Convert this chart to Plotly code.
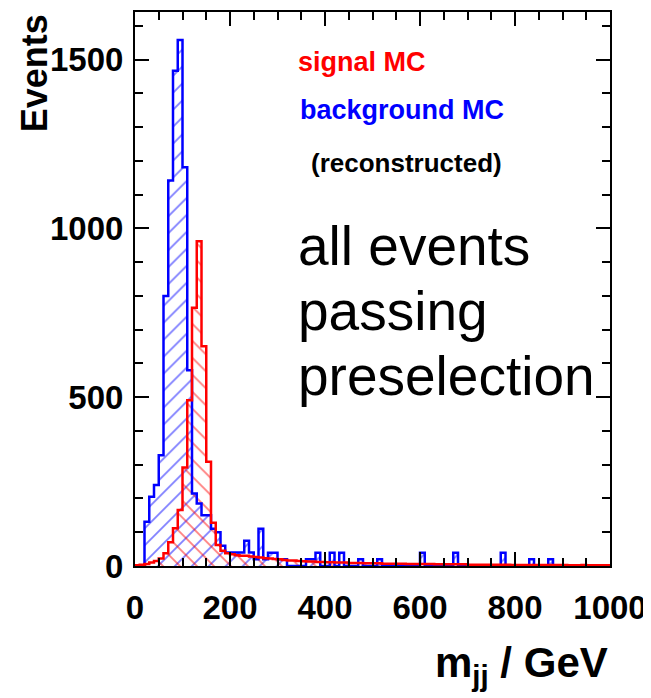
import plotly.graph_objects as go

# bin low edges, 10 GeV wide
bin_lo = list(range(0, 1000, 10))

background_mc = [
    0, 0, 131, 205, 240, 328, 800, 1142, 1467, 1558,
    1181, 580, 215, 185, 150, 150, 110, 100, 60, 40,
    40, 40, 40, 75, 40, 20, 110, 20, 39, 39,
    20, 20, 0, 0, 0, 0, 20, 20, 39, 0,
    0, 39, 0, 39, 0, 0, 0, 20, 0, 0,
    0, 20, 0, 0, 0, 0, 0, 0, 0, 0,
    39, 0, 0, 0, 0, 0, 0, 39, 0, 0,
    0, 0, 0, 0, 0, 0, 0, 39, 0, 0,
    0, 0, 0, 20, 0, 0, 0, 20, 0, 0,
    0, 0, 0, 0, 0, 0, 0, 0, 0, 0,
]

signal_mc = [
    2, 4, 6, 10, 15, 22, 38, 70, 112, 166,
    292, 491, 765, 962, 651, 309, 128, 62, 45, 38,
    35, 32, 30, 30, 28, 27, 25, 23, 22, 21,
    20, 18, 16, 16, 15, 14, 13, 13, 12, 12,
    11, 11, 10, 10, 10, 9, 9, 9, 8, 8,
    8, 8, 7, 7, 7, 7, 7, 6, 6, 6,
    6, 6, 6, 5, 5, 5, 5, 5, 5, 5,
    4, 4, 4, 4, 4, 4, 4, 4, 4, 3,
    3, 3, 3, 3, 3, 3, 3, 3, 3, 3,
    3, 2, 2, 2, 3, 2, 2, 2, 2, 2,
]

x_ticks = [0, 200, 400, 600, 800, 1000]
y_ticks = [0, 500, 1000, 1500]
big_label = ["all events", "passing", "preselection"]

BLUE = "#0000ff"
RED = "#ff0000"
FONT = "Liberation Sans"

centers = [b + 5 for b in bin_lo]
edges = bin_lo + [1000]

fig = go.Figure()

# hatched fills
for vals, col, shp in [(background_mc, BLUE, "/"), (signal_mc, RED, "\\")]:
    fig.add_trace(go.Bar(
        x=centers, y=vals, width=10,
        marker=dict(color="rgba(0,0,0,0)", line=dict(width=0),
                    pattern=dict(shape=shp, fgcolor=col, bgcolor="rgba(0,0,0,0)",
                                 size=12, solidity=0.15, fillmode="overlay")),
        showlegend=False, hoverinfo="skip",
    ))

# step outlines
for vals, col in [(background_mc, BLUE), (signal_mc, RED)]:
    fig.add_trace(go.Scatter(
        x=[0] + edges, y=[0] + vals + [vals[-1]],
        mode="lines", line=dict(color=col, width=2.5, shape="hv"),
        showlegend=False,
    ))

# page body has an 8px margin, so the figure is a bit smaller than the window
fig.update_layout(
    width=643, height=690,
    margin=dict(l=126.5, r=40.5, t=4, b=132),
    plot_bgcolor="white", paper_bgcolor="white",
    barmode="overlay", bargap=0,
    font=dict(family=FONT, color="black"),
)

fig.update_xaxes(
    range=[0, 1000], showgrid=False, zeroline=False, automargin=False,
    showline=True, linewidth=2, linecolor="black", mirror="ticks",
    ticks="inside", ticklen=14, tickwidth=2, tickcolor="black",
    tickvals=x_ticks, ticktext=[str(v) for v in x_ticks],
    tickfont=dict(size=33, family=FONT, weight="bold"),
    ticklabelstandoff=11,
    minor=dict(dtick=50, ticks="inside", ticklen=8, tickwidth=2, tickcolor="black", showgrid=False),
)
fig.update_yaxes(
    range=[0, 1641], showgrid=False, zeroline=False, automargin=False,
    showline=True, linewidth=2, linecolor="black", mirror="ticks",
    ticks="inside", ticklen=14, tickwidth=2, tickcolor="black",
    tickvals=y_ticks, ticktext=[str(v) for v in y_ticks],
    tickfont=dict(size=33, family=FONT, weight="bold"),
    ticklabelstandoff=3,
    minor=dict(dtick=100, ticks="inside", ticklen=8, tickwidth=2, tickcolor="black", showgrid=False),
)

# axis titles
fig.add_annotation(text="<b>Events</b>", xref="paper", yref="paper",
                   x=-0.21, y=0.89, textangle=-90, showarrow=False,
                   xanchor="center", yanchor="middle",
                   font=dict(size=36, family=FONT))
fig.add_annotation(text="<b>m<sub>jj</sub> / GeV</b>", xref="paper", yref="paper",
                   x=1.0, y=-0.18, showarrow=False,
                   xanchor="right", yanchor="middle",
                   font=dict(size=42, family=FONT))

# labels inside the frame
fig.add_annotation(text="<b>signal MC</b>", x=339, y=1493, xanchor="left", yanchor="middle",
                   showarrow=False, font=dict(size=27, color=RED, family=FONT))
fig.add_annotation(text="<b>background MC</b>", x=343, y=1351, xanchor="left", yanchor="middle",
                   showarrow=False, font=dict(size=27, color=BLUE, family=FONT))
fig.add_annotation(text="<b>(reconstructed)</b>", x=366, y=1194, xanchor="left", yanchor="middle",
                   showarrow=False, font=dict(size=26, color="black", family=FONT))
for txt, yy in zip(big_label, [948, 755, 563]):
    fig.add_annotation(text=txt, x=339, y=yy, xanchor="left", yanchor="middle",
                       showarrow=False, font=dict(size=55, color="black", family=FONT))

fig.write_html("out.html")
